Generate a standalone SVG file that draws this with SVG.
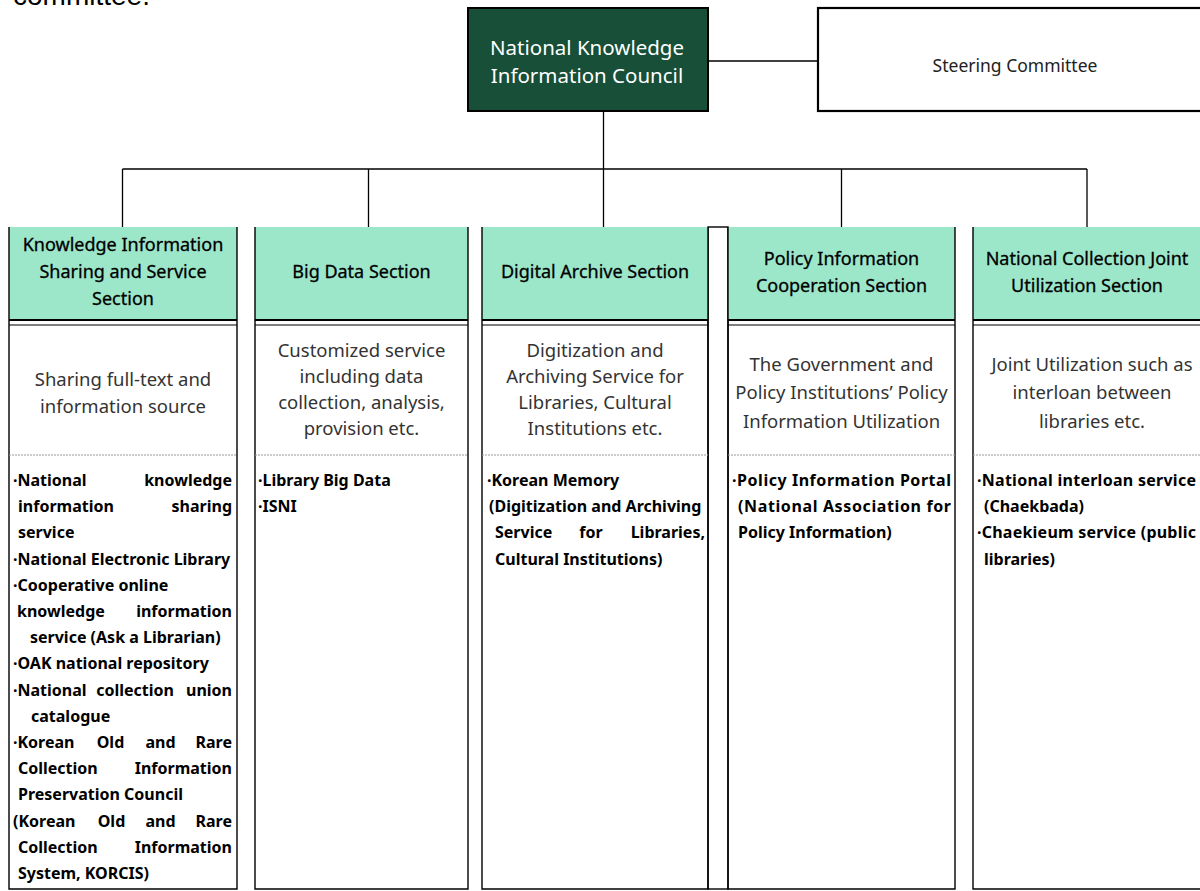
<svg xmlns="http://www.w3.org/2000/svg" width="1200" height="891" viewBox="0 0 1200 891">
<style>
text{font-family:"Noto Sans","Liberation Sans",sans-serif;fill:#111}
.title{font-size:20.5px;fill:#fff;text-anchor:middle}
.steer{font-size:17.5px;text-anchor:middle;fill:#222}
.hd{font-size:18px;text-anchor:middle;fill:#000;stroke:#000;stroke-width:0.3}
.ds{font-size:18.5px;text-anchor:middle;fill:#333}
.bl{font-size:16px;font-weight:bold;fill:#000}
.e{text-anchor:end}
.m{text-anchor:middle}
.hdr{fill:#9ce6c9}
.col{fill:none;stroke:#000;stroke-width:1.4}
.dbl{stroke:#000}
.dash{stroke:#999;stroke-width:1;stroke-dasharray:2 1}
.conn{stroke:#000;stroke-width:1.3;fill:none}
</style>
<text x="13" y="5" style="font-family:'Liberation Sans',sans-serif;font-size:28px;fill:#000">committee.</text>
<g id="connectors">
<path class="conn" d="M708 61H818"/>
<path class="conn" d="M603.5 111V169"/>
<path class="conn" d="M122.5 169H1087"/>
<path class="conn" d="M122.5 169V227M368.5 169V227M603.5 169V227M841.5 169V227M1087 169V227"/>
</g>
<g id="council">
<rect x="468" y="8" width="240" height="103" fill="#174f38" stroke="#000" stroke-width="2"/>
<text class="title" x="587" y="55">National Knowledge</text>
<text class="title" x="587" y="83">Information Council</text>
</g>
<g id="steering">
<rect x="818" y="8" width="394" height="103" fill="#fff" stroke="#000" stroke-width="2.2"/>
<text class="steer" x="1015" y="72">Steering Committee</text>
</g>
<g id="strip">
<rect class="col" x="708" y="227" width="20" height="662"/>
</g>
<g id="col1">
<rect class="hdr" x="9" y="227" width="228" height="92"/>
<path class="col" d="M9 227V889H237V227"/>
<path class="dbl" stroke-width="2" d="M9 320H237"/>
<path class="dbl" stroke-width="1.2" d="M9 325H237"/>
<path class="dash" d="M9 455H237"/>
<text class="hd" x="123" y="251">Knowledge Information</text>
<text class="hd" x="123" y="278">Sharing and Service</text>
<text class="hd" x="123" y="305">Section</text>
<text class="ds" x="123" y="386">Sharing full-text and</text>
<text class="ds" x="123" y="413">information source</text>
<text class="bl" x="13" y="486">·National</text><text class="bl e" x="232" y="486">knowledge</text>
<text class="bl" x="18" y="512">information</text><text class="bl e" x="232" y="512">sharing</text>
<text class="bl" x="18" y="538">service</text>
<text class="bl" x="13" y="565">·National Electronic Library</text>
<text class="bl" x="13" y="591">·Cooperative online</text>
<text class="bl" x="17" y="617">knowledge</text><text class="bl e" x="232" y="617">information</text>
<text class="bl" x="30" y="643">service (Ask a Librarian)</text>
<text class="bl" x="13" y="669">·OAK national repository</text>
<text class="bl" x="13" y="696">·National</text><text class="bl m" x="135" y="696">collection</text><text class="bl e" x="232" y="696">union</text>
<text class="bl" x="31" y="722">catalogue</text>
<text class="bl" x="13" y="748">·Korean</text><text class="bl m" x="110.5" y="748">Old</text><text class="bl m" x="160.5" y="748">and</text><text class="bl e" x="232" y="748">Rare</text>
<text class="bl" x="18" y="774">Collection</text><text class="bl e" x="232" y="774">Information</text>
<text class="bl" x="18" y="800">Preservation Council</text>
<text class="bl" x="13" y="827">(Korean</text><text class="bl m" x="111.5" y="827">Old</text><text class="bl m" x="160.5" y="827">and</text><text class="bl e" x="232" y="827">Rare</text>
<text class="bl" x="18" y="853">Collection</text><text class="bl e" x="232" y="853">Information</text>
<text class="bl" x="18" y="879">System, KORCIS)</text>
</g>
<g id="col2">
<rect class="hdr" x="255" y="227" width="213" height="92"/>
<path class="col" d="M255 227V889H468V227"/>
<path class="dbl" stroke-width="2" d="M255 320H468"/>
<path class="dbl" stroke-width="1.2" d="M255 325H468"/>
<path class="dash" d="M255 455H468"/>
<text class="hd" x="361.5" y="278">Big Data Section</text>
<text class="ds" x="361.5" y="357">Customized service</text>
<text class="ds" x="361.5" y="383">including data</text>
<text class="ds" x="361.5" y="409">collection, analysis,</text>
<text class="ds" x="361.5" y="435">provision etc.</text>
<text class="bl" x="258" y="486">·Library Big Data</text>
<text class="bl" x="258" y="512">·ISNI</text>
</g>
<g id="col3">
<rect class="hdr" x="482" y="227" width="226" height="92"/>
<path class="col" d="M482 227V889H708V227"/>
<path class="dbl" stroke-width="2" d="M482 320H708"/>
<path class="dbl" stroke-width="1.2" d="M482 325H708"/>
<path class="dash" d="M482 455H708"/>
<text class="hd" x="595" y="278">Digital Archive Section</text>
<text class="ds" x="595" y="357">Digitization and</text>
<text class="ds" x="595" y="383">Archiving Service for</text>
<text class="ds" x="595" y="409">Libraries, Cultural</text>
<text class="ds" x="595" y="435">Institutions etc.</text>
<text class="bl" x="487" y="486">·Korean Memory</text>
<text class="bl" x="489" y="512">(Digitization and Archiving</text>
<text class="bl" x="495" y="538">Service</text><text class="bl m" x="591" y="538">for</text><text class="bl e" x="705" y="538">Libraries,</text>
<text class="bl" x="495" y="565">Cultural Institutions)</text>
</g>
<g id="col4">
<rect class="hdr" x="728" y="227" width="227" height="92"/>
<path class="col" d="M728 227V889H955V227"/>
<path class="dbl" stroke-width="2" d="M728 320H955"/>
<path class="dbl" stroke-width="1.2" d="M728 325H955"/>
<path class="dash" d="M728 455H955"/>
<text class="hd" x="841.5" y="264.5">Policy Information</text>
<text class="hd" x="841.5" y="291.5">Cooperation Section</text>
<text class="ds" x="841.5" y="371">The Government and</text>
<text class="ds" x="841.5" y="399">Policy Institutions’ Policy</text>
<text class="ds" x="841.5" y="428">Information Utilization</text>
<text class="bl" x="732" y="486" textLength="219" lengthAdjust="spacing">·Policy Information Portal</text>
<text class="bl" x="738" y="512" textLength="213" lengthAdjust="spacing">(National Association for</text>
<text class="bl" x="738" y="538">Policy Information)</text>
</g>
<g id="col5">
<rect class="hdr" x="973" y="227" width="234" height="92"/>
<path class="col" d="M973 227V889H1207V227"/>
<path class="dbl" stroke-width="2" d="M973 320H1207"/>
<path class="dbl" stroke-width="1.2" d="M973 325H1207"/>
<path class="dash" d="M973 455H1207"/>
<text class="hd" x="1087" y="264.5">National Collection Joint</text>
<text class="hd" x="1087" y="291.5">Utilization Section</text>
<text class="ds" x="1092" y="371">Joint Utilization such as</text>
<text class="ds" x="1092" y="399">interloan between</text>
<text class="ds" x="1092" y="428">libraries etc.</text>
<text class="bl" x="977" y="486" textLength="219" lengthAdjust="spacing">·National interloan service</text>
<text class="bl" x="984" y="512">(Chaekbada)</text>
<text class="bl" x="977" y="538" textLength="219" lengthAdjust="spacing">·Chaekieum service (public</text>
<text class="bl" x="984" y="565">libraries)</text>
</g>
</svg>
